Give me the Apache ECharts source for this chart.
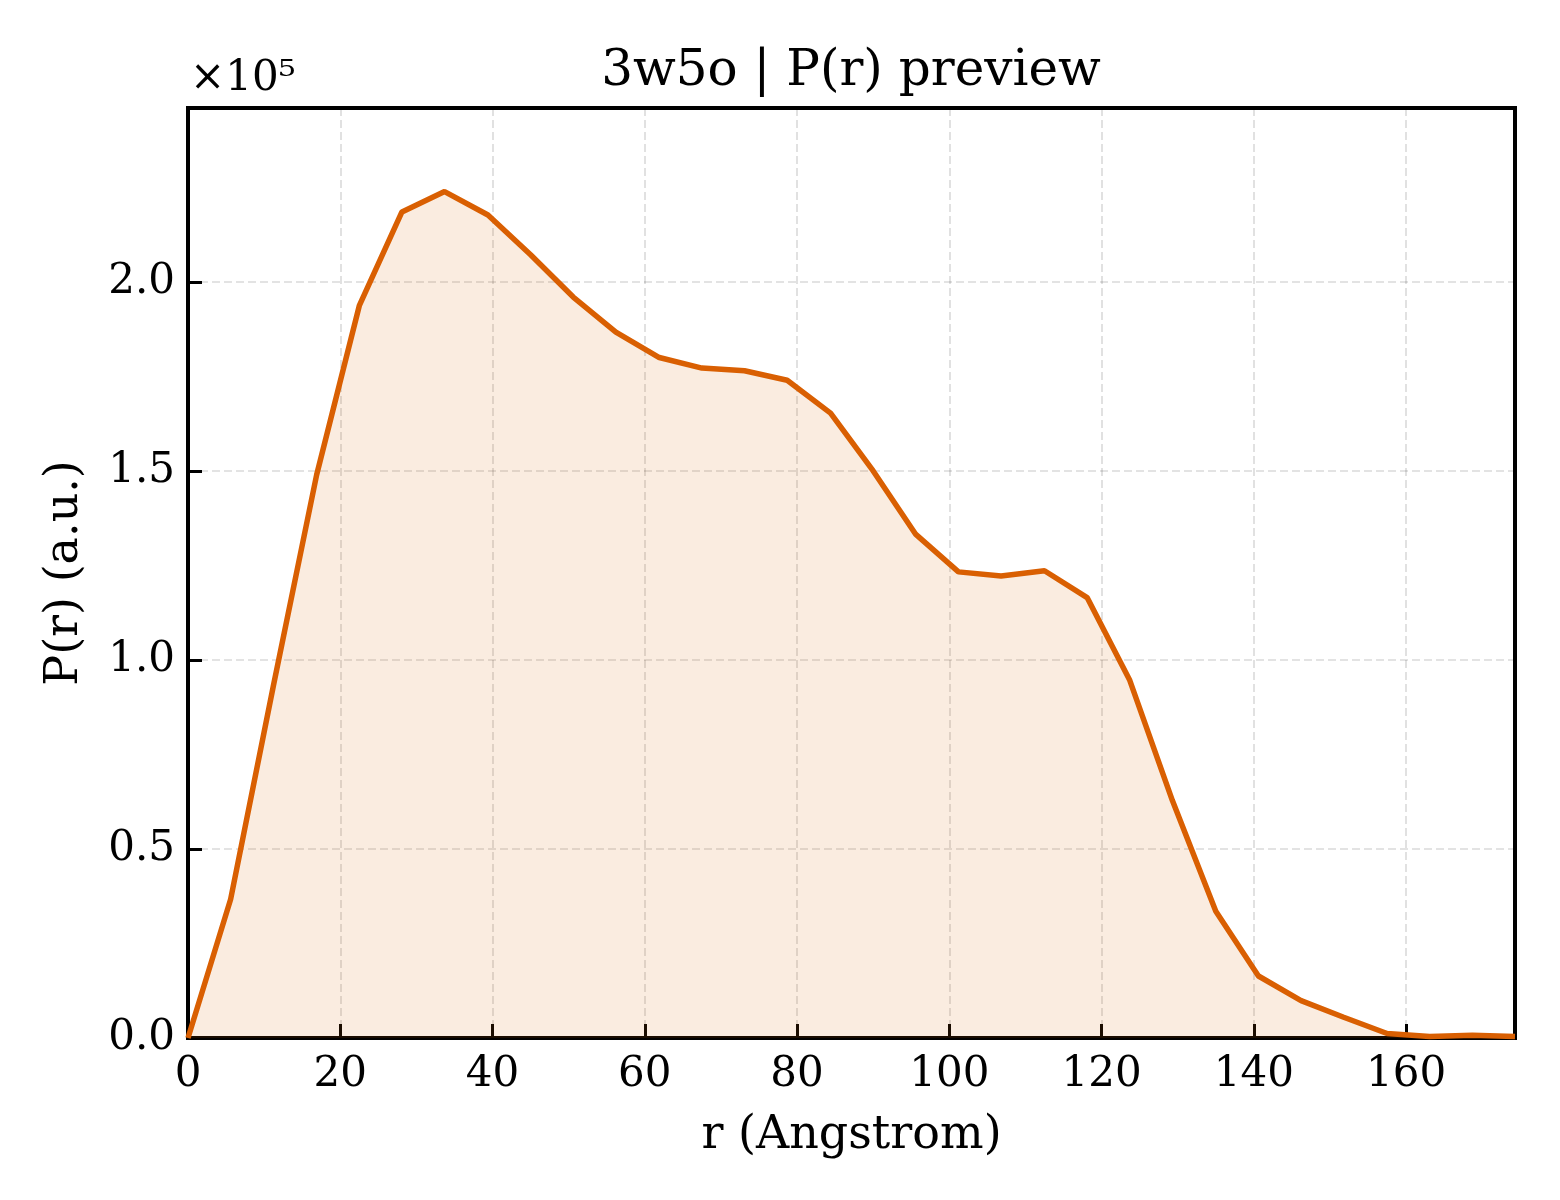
<!DOCTYPE html>
<html>
<head>
<meta charset="utf-8">
<title>3w5o | P(r) preview</title>
<script src="https://cdn.jsdelivr.net/npm/echarts@6.0.0/dist/echarts.min.js"></script>
<style>
  html, body { margin: 0; padding: 0; background: #fff; }
  #chart { width: 1560px; height: 1200px; }
</style>
</head>
<body>
<div id="chart"></div>
<script>
// r in Angstrom
var rValues = [0, 5.6, 11.2, 16.9, 22.5, 28.1, 33.7, 39.4, 45.0, 50.6, 56.2, 61.9,
  67.5, 73.1, 78.7, 84.4, 90.0, 95.6, 101.2, 106.8, 112.5, 118.1, 123.7, 129.3,
  135.0, 140.6, 146.2, 151.8, 157.5, 163.1, 168.7, 174.3]
// P(r) in a.u.
var prValues = [0, 36700, 93000, 149000, 193700, 218500, 223900, 217700, 207200,
  196000, 186700, 180000, 177200, 176500, 174000, 165300, 150000, 133200, 123300,
  122200, 123600, 116500, 94600, 62800, 33500, 16400, 9900, 5500, 1200, 400, 700, 400]
var xTicks = [0, 20, 40, 60, 80, 100, 120, 140, 160]
var yTicks = [0, 50000, 100000, 150000, 200000]

var FONT = '"DejaVu Serif", serif'
var lineColor = '#d95f02'

var chart = echarts.init(document.getElementById('chart'))

var points = rValues.map(function (r, i) { return [r, prValues[i]] })

chart.setOption({
  animation: false,
  backgroundColor: '#fff',
  title: {
    text: '3w5o | P(r) preview',
    left: 846,
    textAlign: 'center',
    top: 42,
    textStyle: { fontFamily: FONT, fontSize: 50, fontWeight: 'normal', color: '#000' }
  },
  graphic: [{
    type: 'text',
    left: 190,
    top: 58,
    style: { text: '×10⁵', font: '42px ' + FONT, fill: '#000' }
  }],
  grid: {
    left: 188, right: 45, top: 108, bottom: 162,
    show: true, borderColor: '#000', borderWidth: 4, backgroundColor: 'transparent'
  },
  xAxis: {
    type: 'value',
    min: 0,
    max: 174.3,
    interval: 20,
    name: 'r (Angstrom)',
    nameLocation: 'middle',
    nameGap: 75,
    nameTextStyle: { fontFamily: FONT, fontSize: 46, color: '#000' },
    axisLine: { show: true, lineStyle: { color: '#000', width: 4 } },
    axisTick: { show: true, inside: true, length: 14, lineStyle: { color: '#000', width: 3 } },
    axisLabel: {
      margin: 16,
      fontFamily: FONT, fontSize: 42, color: '#000',
      showMaxLabel: false,
      formatter: function (v) { return xTicks.indexOf(v) >= 0 ? String(v) : '' }
    },
    splitLine: { show: true, lineStyle: { color: 'rgba(0,0,0,0.15)', width: 1.6, type: [8, 4] } }
  },
  yAxis: {
    type: 'value',
    min: 0,
    max: 246000,
    interval: 50000,
    name: 'P(r) (a.u.)',
    nameLocation: 'middle',
    nameGap: 100,
    nameTextStyle: { fontFamily: FONT, fontSize: 46, color: '#000' },
    axisLine: { show: true, lineStyle: { color: '#000', width: 4 } },
    axisTick: { show: true, inside: true, length: 14, lineStyle: { color: '#000', width: 3 } },
    axisLabel: {
      margin: 13,
      fontFamily: FONT, fontSize: 42, color: '#000',
      showMaxLabel: false,
      formatter: function (v) { return yTicks.indexOf(v) >= 0 ? (v / 1e5).toFixed(1) : '' }
    },
    splitLine: { show: true, lineStyle: { color: 'rgba(0,0,0,0.15)', width: 1.6, type: [8, 4] } }
  },
  series: [{
    type: 'line',
    data: points,
    showSymbol: false,
    symbol: 'none',
    smooth: false,
    lineStyle: { color: lineColor, width: 5.5 },
    itemStyle: { color: lineColor },
    areaStyle: { color: lineColor, opacity: 0.12 }
  }]
})
</script>
</body>
</html>
